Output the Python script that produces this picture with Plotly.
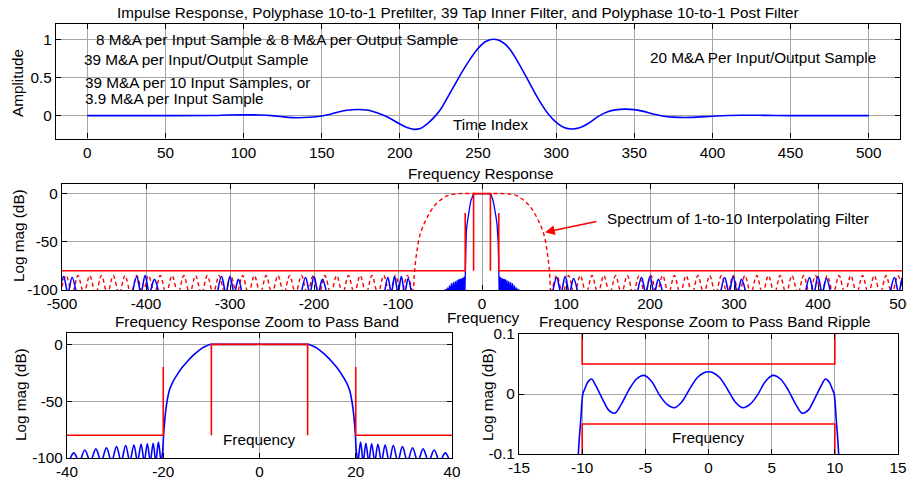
import plotly.graph_objects as go

FONT = "Liberation Sans, Arial, sans-serif"
FS = 15.3
BLUE = "#0000ff"
RED = "#ff0000"
OFF = 8              # page body margin of the browser
W, H = 915 - OFF, 478 - OFF

# ---------------- data: impulse response (top panel) ----------------
imp_n = [0, 40, 80, 90, 100, 110, 118, 125, 135, 142, 150, 155, 160, 166, 173, 180, 185, 190, 195, 200,
         205, 209, 213, 218, 222, 226, 230, 235, 240, 245, 250, 255, 260, 265, 270, 275, 280, 285, 290, 295,
         300, 305, 310, 315, 320, 327, 333, 338, 344, 350, 356, 362, 368, 375, 382, 390, 400, 410, 420, 435,
         450, 500]
imp_amp = [0, 0, 0.002, 0.008, 0.01, 0.008, 0, -0.015, -0.028, -0.022, -0.005, 0.015, 0.045, 0.07, 0.08, 0.07, 0.04, 0.0, -0.05, -0.11,
           -0.16, -0.18, -0.17, -0.1, -0.02, 0.08, 0.22, 0.4, 0.58, 0.74, 0.88, 0.97, 1.0, 0.97, 0.88, 0.72, 0.54, 0.35, 0.17, 0.02,
           -0.09, -0.155, -0.175, -0.16, -0.11, -0.01, 0.05, 0.075, 0.085, 0.078, 0.055, 0.02, -0.005, -0.02, -0.025, -0.02, -0.008, 0.002, 0.004, 0.003,
           0.0, 0.0]

# ---------------- data: overall response, positive-frequency half (symmetric) ----------------
# pass band ripple + transition band
blue_f = [0, 0.4, 0.9, 1.5, 2.1, 2.7, 3.3, 3.9, 4.5, 5.1, 5.7, 6.3, 6.9, 7.4, 7.9, 8.4, 8.9, 9.25, 9.55, 9.8,
          9.95, 10.1, 10.3, 10.6, 11, 12, 13, 14, 15, 16, 17, 18, 18.7, 19.2, 19.6, 19.9, 20.15, 20.45]
blue_db = [0.037, 0.035, 0.027, 0.008, -0.013, -0.023, -0.017, -0.001, 0.021, 0.031, 0.025, 0.007, -0.017, -0.032, -0.027, -0.008, 0.013, 0.025, 0.02, 0.008,
           0.0, -0.04, -0.1, -0.5, -1.3, -3.6, -6.8, -10.5, -15, -20, -26, -33, -40, -50, -63, -78, -95, -103]
# stop band side lobes next to the pass band
blue_sb_peak_f = [21.0, 22.1, 23.3, 24.6, 26.1, 27.8, 29.7, 31.8, 34.0, 36.3, 38.6, 41.0, 43.4, 45.8]
blue_sb_peak_db = [-86, -87, -87.5, -88, -88.5, -89, -90, -91, -92, -93, -95.5, -97.5, -99, -100.5]
blue_sb_null_f = [21.55, 22.7, 23.95, 25.35, 26.95, 28.75, 30.75, 32.9, 35.15, 37.45, 39.8, 42.2, 44.6, 47.0]
NULL_DB = -103

# spectral images of the inner filter stop band (middle panel)
img_f = [84, 89, 94, 99, 104, 109, 114, None,
         185, 190, 195, 200, 205, 210, 215, None,
         284, 289, 294, 299, 304, 309, 314, None,
         385, 390, 395, 400, 405, 410, 415, None,
         486, 491, 496, 501, 506, None,
         -84, -88, -92, -96, -100, -104, -108, -112, -116, None,
         -185, -190, -195, -200, -205, -210, -215, None,
         -286, -290, -295, -300, -305, -310, -315, None,
         -385, -390, -396, -401, -406, -411, -416, None,
         -483, -488, -493, -498, -503]
img_db = [-103, -87, -103, -86, -103, -88, -103, None,
          -103, -87, -103, -86, -103, -89, -103, None,
          -103, -87, -103, -86, -103, -89, -103, None,
          -103, -87, -103, -86, -103, -88, -103, None,
          -103, -87, -103, -86, -103, None,
          -103, -88, -103, -86, -103, -86, -103, -87, -103, None,
          -103, -89, -103, -86, -103, -87, -103, None,
          -103, -89, -103, -86, -103, -86, -103, None,
          -103, -89, -103, -85, -103, -86, -103, None,
          -103, -87, -103, -86, -103]

# spectrum of 1-to-10 interpolating filter (positive half)
interp_f = [0, 28, 35, 41, 46, 52, 57, 62, 66, 69.5, 72.5, 75, 77, 78.5, 79.8, 80.8, 81.5]
interp_db = [0, 0, -0.8, -2, -4.5, -8.5, -13, -19.5, -26, -32.5, -39, -47, -57, -66, -76, -87, -100]
interp_null_f = [82, 96, 110, 124, 138, 152, 166, 180, 194, 208, 222, 236, 250, 264, 278, 292,
                 306, 320, 334, 348, 362, 376, 390, 404, 418, 432, 446, 460, 474, 488, 502]
interp_peak_f = [89, 103, 117, 131, 145, 159, 173, 187, 201, 215, 229, 243, 257, 271, 285,
                 299, 313, 327, 341, 355, 369, 383, 397, 411, 425, 439, 453, 467, 481, 495]
interp_peak_db = [-85, -85, -85, -85, -85, -85, -85, -85, -85, -85, -85, -85, -85, -85, -85,
                  -85, -85, -85, -85, -85, -85, -85, -85, -85, -85, -85, -85, -85, -85, -85]
INTERP_NULL_DB = -104

# specification masks
mask_f = [-500, -20, -20, None, -10, -10, 10, 10, None, 20, 20, 500]
mask_db = [-80, -80, -20, None, -80, 0, 0, -80, None, -20, -80, -80]
ripple_mask_f = [-10, -10, 10, 10, None, -10, -10, 10, 10]
ripple_mask_db = [0.15, 0.05, 0.05, 0.15, None, -0.15, -0.05, -0.05, -0.15]

# tick labels
t1x = [0, 50, 100, 150, 200, 250, 300, 350, 400, 450, 500]
t1x_lab = ["0", "50", "100", "150", "200", "250", "300", "350", "400", "450", "500"]
t1y = [0, 0.5, 1]
t1y_lab = ["0", "0.5", "1"]
t2x = [-500, -400, -300, -200, -100, 0, 100, 200, 300, 400, 500]
t2x_lab = ["-500", "-400", "-300", "-200", "-100", "0", "100", "200", "300", "400", "500"]
tdb = [-100, -50, 0]
tdb_lab = ["-100", "-50", "0"]
t3x = [-40, -20, 0, 20, 40]
t3x_lab = ["-40", "-20", "0", "20", "40"]
t4x = [-15, -10, -5, 0, 5, 10, 15]
t4x_lab = ["-15", "-10", "-5", "0", "5", "10", "15"]
t4y = [-0.1, 0, 0.1]
t4y_lab = ["-0.1", "0", "0.1"]

# ---------------- assemble symmetric curves ----------------
def interleave(nulls_after, peaks, peak_db, null_db):
    xs, ys = [], []
    for i, p in enumerate(peaks):
        xs += [p, nulls_after[i]]
        ys += [peak_db[i], null_db]
    return xs, ys

sb_x, sb_y = interleave(blue_sb_null_f, blue_sb_peak_f, blue_sb_peak_db, NULL_DB)
pos_x = blue_f + sb_x
pos_y = blue_db + sb_y
full_x = [-v for v in reversed(pos_x[1:])] + pos_x
full_y = list(reversed(pos_y[1:])) + pos_y

ix, iy = interleave(interp_null_f[1:], interp_peak_f, interp_peak_db, INTERP_NULL_DB)
ipos_x = interp_f + [interp_null_f[0]] + ix
ipos_y = interp_db + [INTERP_NULL_DB] + iy
ifull_x = [-v for v in reversed(ipos_x[1:])] + ipos_x
ifull_y = list(reversed(ipos_y[1:])) + ipos_y

fig = go.Figure()
lw = 1.6
fig.add_trace(go.Scatter(x=imp_n, y=imp_amp, mode="lines", line=dict(color=BLUE, width=lw, shape="spline"),
                         xaxis="x", yaxis="y"))
# middle
fig.add_trace(go.Scatter(x=ifull_x, y=ifull_y, mode="lines",
                         line=dict(color=RED, width=1.4, dash="4px,3px", shape="spline", smoothing=1),
                         xaxis="x2", yaxis="y2"))
fig.add_trace(go.Scatter(x=img_f, y=img_db, mode="lines", line=dict(color=BLUE, width=lw, shape="spline", smoothing=1),
                         connectgaps=False, xaxis="x2", yaxis="y2"))
fig.add_trace(go.Scatter(x=full_x, y=full_y, mode="lines", line=dict(color=BLUE, width=1.3),
                         xaxis="x2", yaxis="y2"))
fig.add_trace(go.Scatter(x=mask_f, y=mask_db, mode="lines", line=dict(color=RED, width=lw),
                         connectgaps=False, xaxis="x2", yaxis="y2"))
# bottom left
fig.add_trace(go.Scatter(x=full_x, y=full_y, mode="lines", line=dict(color=BLUE, width=lw, shape="spline", smoothing=1),
                         xaxis="x3", yaxis="y3"))
fig.add_trace(go.Scatter(x=mask_f, y=mask_db, mode="lines", line=dict(color=RED, width=lw),
                         connectgaps=False, xaxis="x3", yaxis="y3"))
# bottom right
fig.add_trace(go.Scatter(x=full_x, y=full_y, mode="lines", line=dict(color=BLUE, width=lw, shape="spline", smoothing=0.8),
                         xaxis="x4", yaxis="y4"))
fig.add_trace(go.Scatter(x=ripple_mask_f, y=ripple_mask_db, mode="lines", line=dict(color=RED, width=lw),
                         connectgaps=False, xaxis="x4", yaxis="y4"))


def px_x(p):
    return (p - OFF) / W


def px_y(p):
    return 1 - (p - OFF) / H


def ax(domain, rng, tv, tt, anchor):
    return dict(domain=domain, range=rng, tickvals=tv, ticktext=tt, anchor=anchor, automargin=False,
                showline=True, linecolor="black", linewidth=1.2, mirror="ticks",
                ticks="inside", ticklen=5, tickcolor="black", tickwidth=1,
                showgrid=True, gridcolor="#a6a6a6", gridwidth=1, zeroline=False,
                tickfont=dict(family=FONT, size=FS, color="black"), fixedrange=True)


fig.update_layout(
    width=W, height=H, margin=dict(l=0, r=0, t=0, b=0, autoexpand=False),
    paper_bgcolor="white", plot_bgcolor="white", showlegend=False,
    font=dict(family=FONT, size=FS, color="black"),
    xaxis=ax([px_x(56), px_x(900)], [-20, 520], t1x, t1x_lab, "y"),
    yaxis=ax([px_y(138.5), px_y(24)], [-0.3, 1.2], t1y, t1y_lab, "x"),
    xaxis2=ax([px_x(62), px_x(902)], [-500, 500], t2x, t2x_lab, "y2"),
    yaxis2=ax([px_y(290), px_y(184)], [-100, 10], tdb, tdb_lab, "x2"),
    xaxis3=ax([px_x(67), px_x(452)], [-40, 40], t3x, t3x_lab, "y3"),
    yaxis3=ax([px_y(458), px_y(333)], [-100, 10], tdb, tdb_lab, "x3"),
    xaxis4=ax([px_x(519), px_x(898)], [-15, 15], t4x, t4x_lab, "y4"),
    yaxis4=ax([px_y(454), px_y(334)], [-0.1, 0.1], t4y, t4y_lab, "x4"),
)

ann = []


def ptext(text, x, y, angle=0):
    ann.append(dict(text=text, x=px_x(x), y=px_y(y), xref="paper", yref="paper", showarrow=False,
                    xanchor="center", yanchor="middle", textangle=angle,
                    font=dict(family=FONT, size=FS, color="black")))


def dtext(text, x, y, xr, yr, xanchor="left"):
    ann.append(dict(text=text, x=x, y=y, xref=xr, yref=yr, showarrow=False,
                    xanchor=xanchor, yanchor="middle",
                    font=dict(family=FONT, size=FS, color="black")))


ptext("Impulse Response, Polyphase 10-to-1 Prefilter, 39 Tap Inner Filter, and Polyphase 10-to-1 Post Filter", 458, 13)
ptext("Frequency Response", 481, 173)
ptext("Frequency Response Zoom to Pass Band", 257, 321)
ptext("Frequency Response Zoom to Pass Band Ripple", 704.5, 321)
ptext("Amplitude", 18, 83, -90)
ptext("Log mag (dB)", 18, 236, -90)
ptext("Log mag (dB)", 20, 395, -90)
ptext("Log mag (dB)", 487, 395, -90)
ptext("Frequency", 483, 317)

dtext("8 M&A per Input Sample & 8 M&A per Output Sample", 4, 1.0, "x", "y")
dtext("39 M&A per Input/Output Sample", -3.4, 0.73, "x", "y")
dtext("39 M&A per 10 Input Samples, or", -2.8, 0.43, "x", "y")
dtext("3.9 M&A per Input Sample", -2.8, 0.22, "x", "y")
dtext("20 M&A Per Input/Output Sample", 359, 0.76, "x", "y")
dtext("Time Index", 258, -0.12, "x", "y", "center")
dtext("Spectrum of 1-to-10 Interpolating Filter", 146, -26.3, "x2", "y2")
dtext("Frequency", 0, -84, "x3", "y3", "center")
dtext("Frequency", 0, -0.072, "x4", "y4", "center")

ann.append(dict(text="", x=75, y=-40, xref="x2", yref="y2", ax=138, ay=-28.5, axref="x2", ayref="y2",
                showarrow=True, arrowhead=2, arrowsize=1.3, arrowwidth=1.5, arrowcolor=RED))

fig.update_layout(annotations=ann)
fig.write_html("out.html")
